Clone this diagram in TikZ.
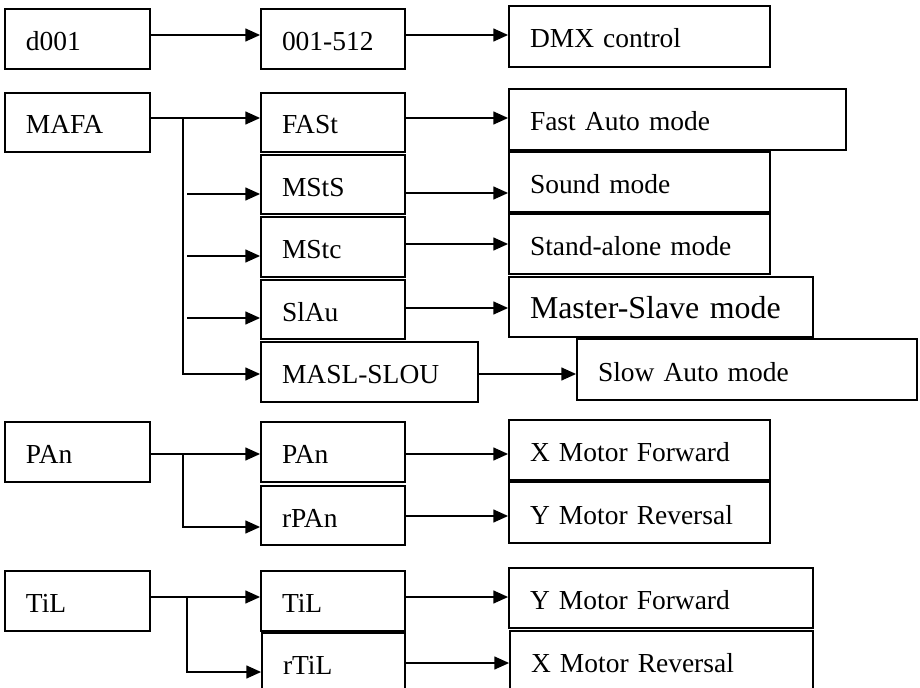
\documentclass[tikz,border=0pt]{standalone}
\usepackage{fontspec}
\setmainfont{Liberation Serif}
\usetikzlibrary{arrows.meta}
\tikzset{
  box/.style={draw, line width=1.3pt, rectangle, inner xsep=15.75pt, inner ysep=0pt,
    align=left, font=\fontsize{20.6}{24}\selectfont, text height=17.25pt, text depth=0pt},
  big/.style={font=\fontsize{23.9}{28}\selectfont},
  arr/.style={line width=1.5pt, -{Triangle[length=11pt,width=9.5pt]}},
  ln/.style={line width=1.5pt}
}
% #1 extra options, #2 name, #3 x1, #4 y1, #5 x2, #6 y2, #7 text
\newcommand\mybox[7][]{%
  \pgfmathsetmacro\bw{(#5-#3)*0.75-31.5}%
  \pgfmathsetmacro\bh{(#6-#4)*0.75}%
  \node[box,#1,text width=\bw pt,minimum height=\bh pt] (#2) at ({(#3+#5)/2},{(#4+#6)/2}) {#7};}
\begin{document}
\begin{tikzpicture}[x=0.75pt,y=-0.75pt]
\useasboundingbox (0,0) rectangle (920,688);
\clip (0,0) rectangle (920,688);
% column 1
\mybox{a1}{5}{9}{150}{69}{d001}
\mybox{a2}{5}{93}{150}{152}{MAFA}
\mybox{a3}{5}{422}{150}{482}{PAn}
\mybox{a4}{5}{571}{150}{631}{TiL}
% column 2
\mybox{b1}{261}{9}{405}{69}{001-512}
\mybox{b2}{261}{93}{405}{152}{FASt}
\mybox{b3}{261}{155}{405}{214}{MStS}
\mybox{b4}{261}{217}{405}{277}{MStc}
\mybox{b5}{261}{280}{405}{339}{SlAu}
\mybox{b6}{261}{342}{478}{402}{MASL-SLOU}
\mybox{b7}{261}{422}{405}{482}{PAn}
\mybox{b8}{261}{486}{405}{545}{rPAn}
\mybox{b9}{261}{571}{405}{631}{TiL}
\mybox{b10}{262}{633}{405}{693}{rTiL}
% column 3
\mybox{c1}{509}{6}{770}{67}{DMX control}
\mybox{c2}{509}{89}{846}{150}{Fast Auto mode}
\mybox{c3}{509}{152}{770}{212}{Sound mode}
\mybox{c4}{509}{214}{770}{274}{Stand-alone mode}
\mybox[big]{c5}{509}{277}{813}{337}{Master-Slave mode}
\mybox{c6}{577}{339}{917}{400}{Slow Auto mode}
\mybox{c7}{509}{420}{770}{480}{X Motor Forward}
\mybox{c8}{509}{482}{770}{543}{Y Motor Reversal}
\mybox{c9}{509}{568}{813}{628}{Y Motor Forward}
\mybox{c10}{510}{631}{813}{691}{X Motor Reversal}
% junctions and free arrow starts
\coordinate (jm) at (183,118);
\coordinate (jp) at (183,454);
\coordinate (jt) at (187,597);
\coordinate (s3) at (187,194);
\coordinate (s4) at (187,256);
\coordinate (s5) at (187,318);
% column 1 -> column 2
\draw[arr] (a1.east |- 0,35) -- (b1.west |- 0,35);
\draw[arr] (a2.east |- 0,118) -- (b2.west |- 0,118);
\draw[arr] (jm) |- (b6.west |- 0,374);
\draw[arr] (s3) -- (b3.west |- s3);
\draw[arr] (s4) -- (b4.west |- s4);
\draw[arr] (s5) -- (b5.west |- s5);
\draw[arr] (a3.east |- 0,454) -- (b7.west |- 0,454);
\draw[arr] (jp) |- (b8.west |- 0,527);
\draw[arr] (a4.east |- 0,597) -- (b9.west |- 0,597);
\draw[arr] (jt) |- (b10.west |- 0,672);
% column 2 -> column 3
\draw[arr] (b1.east |- 0,35) -- (c1.west |- 0,35);
\draw[arr] (b2.east |- 0,118) -- (c2.west |- 0,118);
\draw[arr] (b3.east |- 0,193) -- (c3.west |- 0,193);
\draw[arr] (b4.east |- 0,244) -- (c4.west |- 0,244);
\draw[arr] (b5.east |- 0,308) -- (c5.west |- 0,308);
\draw[arr] (b6.east |- 0,374) -- (c6.west |- 0,374);
\draw[arr] (b7.east |- 0,454) -- (c7.west |- 0,454);
\draw[arr] (b8.east |- 0,516) -- (c8.west |- 0,516);
\draw[arr] (b9.east |- 0,597) -- (c9.west |- 0,597);
\draw[arr] (b10.east |- 0,663) -- (c10.west |- 0,663);
\end{tikzpicture}
\end{document}
